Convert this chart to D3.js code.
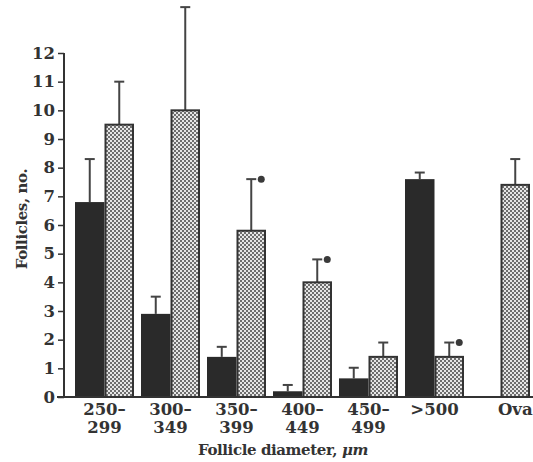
<!DOCTYPE html>
<html>
<head>
<meta charset="utf-8">
<style>
body { margin: 0; background: #fff; }
text { font-family: "DejaVu Serif", serif; font-weight: bold; fill: #333; }
</style>
<script src="https://cdn.jsdelivr.net/npm/d3@7"></script>
</head>
<body>
<script>
// follicle counts per size class; dark = first group, hatched = second group
var categories = ["250–299", "300–349", "350–399", "400–449", "450–499", ">500", "Ova"];
var tickLines = [["250–", "299"], ["300–", "349"], ["350–", "399"], ["400–", "449"], ["450–", "499"], [">500"], ["Ova"]];
var darkValues = [6.8, 2.9, 1.4, 0.2, 0.65, 7.6, null];
var darkUpper = [8.3, 3.5, 1.75, 0.42, 1.02, 7.83, null];
var hatchValues = [9.5, 10.0, 5.8, 4.0, 1.4, 1.4, 7.4];
var hatchUpper = [11.0, 13.6, 7.6, 4.8, 1.9, 1.9, 8.3];
var starred = [false, false, true, true, false, true, false];
var yTicks = [0, 1, 2, 3, 4, 5, 6, 7, 8, 9, 10, 11, 12];

var width = 533, height = 462;
var svg = d3.select("body").append("svg").attr("width", width).attr("height", height);

var defs = svg.append("defs");
var pat = defs.append("pattern").attr("id", "check")
  .attr("width", 4).attr("height", 4).attr("patternUnits", "userSpaceOnUse");
pat.append("rect").attr("width", 4).attr("height", 4).attr("fill", "#e6e6e6");
pat.append("rect").attr("width", 2).attr("height", 2).attr("fill", "#6e6e6e");
pat.append("rect").attr("x", 2).attr("y", 2).attr("width", 2).attr("height", 2).attr("fill", "#6e6e6e");

var x = d3.scaleBand().domain(categories).range([75, 530]).paddingInner(0.106).paddingOuter(0);
var sub = d3.scaleBand().domain(["dark", "hatch"]).range([0, x.bandwidth()]);
var y = d3.scaleLinear().domain([0, 12]).range([397, 53]);

var rows = categories.map(function(c, i) {
  return { cat: c, i: i, dark: darkValues[i], darkHi: darkUpper[i],
    hatch: hatchValues[i], hatchHi: hatchUpper[i], star: starred[i] };
});

// error bars first so the bars cover their bottom end
function errBar(g, cx, hi, lo) {
  g.append("line").attr("x1", cx).attr("x2", cx).attr("y1", y(lo)).attr("y2", y(hi))
    .attr("stroke", "#444").attr("stroke-width", 2);
  g.append("line").attr("x1", cx - 5).attr("x2", cx + 5).attr("y1", y(hi)).attr("y2", y(hi))
    .attr("stroke", "#444").attr("stroke-width", 2);
}

var gErr = svg.append("g");
rows.forEach(function(d) {
  if (d.dark != null) errBar(gErr, x(d.cat) + sub("dark") + sub.bandwidth() / 2, d.darkHi, d.dark);
  errBar(gErr, x(d.cat) + sub("hatch") + sub.bandwidth() / 2, d.hatchHi, d.hatch);
  if (d.star) {
    gErr.append("circle").attr("cx", x(d.cat) + sub("hatch") + sub.bandwidth() / 2 + 10)
      .attr("cy", y(d.hatchHi)).attr("r", 3.5).attr("fill", "#3a3a3a");
  }
});

svg.append("g").selectAll("rect").data(rows.filter(function(d) { return d.dark != null; }))
  .enter().append("rect")
  .attr("x", function(d) { return x(d.cat) + sub("dark"); })
  .attr("y", function(d) { return y(d.dark); })
  .attr("width", sub.bandwidth())
  .attr("height", function(d) { return y(0) - y(d.dark); })
  .attr("fill", "#2a2a2a");

svg.append("g").selectAll("rect").data(rows)
  .enter().append("rect")
  .attr("x", function(d) { return x(d.cat) + sub("hatch") + 1; })
  .attr("y", function(d) { return y(d.hatch); })
  .attr("width", sub.bandwidth() - 2)
  .attr("height", function(d) { return y(0) - y(d.hatch); })
  .attr("fill", "url(#check)")
  .attr("stroke", "#333").attr("stroke-width", 2);

// y axis
var yAxis = svg.append("g").attr("transform", "translate(64,0)")
  .call(d3.axisLeft(y).tickValues(yTicks).tickSize(6).tickPadding(3).tickFormat(d3.format("d")));
yAxis.select(".domain").attr("stroke", "#333").attr("stroke-width", 2).attr("d", "M0," + y(12) + "V" + y(0));
yAxis.selectAll(".tick line").attr("stroke", "#333").attr("stroke-width", 1.5);
yAxis.selectAll("text").style("font-size", "16.5px").attr("fill", "#333");

// x axis
var xAxis = svg.append("g").attr("transform", "translate(0," + y(0) + ")")
  .call(d3.axisBottom(x).tickSize(0).tickFormat(""));
xAxis.select(".domain").attr("stroke", "#333").attr("stroke-width", 2).attr("d", "M57,0H" + width);
xAxis.selectAll(".tick").each(function(c, i) {
  var t = d3.select(this).append("text").attr("text-anchor", "middle").style("font-size", "16.5px")
    .attr("x", c === "Ova" ? sub("hatch") + sub.bandwidth() / 2 - x.bandwidth() / 2 : 0);
  tickLines[i].forEach(function(s, k) {
    t.append("tspan").attr("x", t.attr("x")).attr("y", 18 + k * 18).text(s);
  });
});

svg.append("text").attr("x", 283).attr("y", 455).attr("text-anchor", "middle")
  .style("font-size", "15px").style("letter-spacing", "-0.4px")
  .text("Follicle diameter, ")
  .append("tspan").style("font-style", "italic").text("μm");

svg.append("text").attr("transform", "translate(27,219) rotate(-90)").attr("text-anchor", "middle")
  .style("font-size", "15px").style("letter-spacing", "-0.4px").text("Follicles, no.");
</script>
</body>
</html>
